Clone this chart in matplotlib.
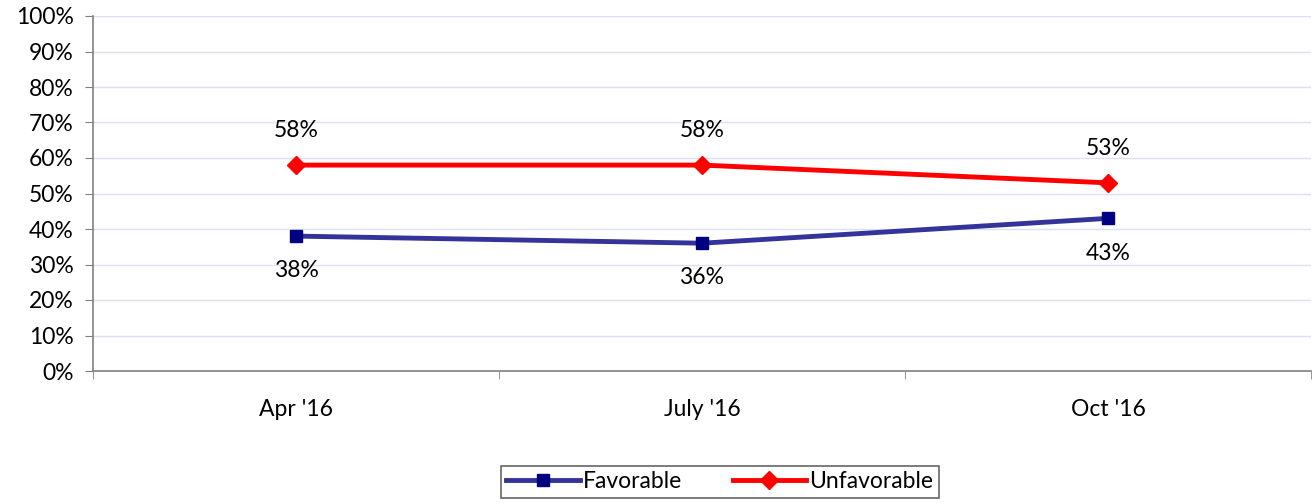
import matplotlib
matplotlib.use("Agg")
import matplotlib.pyplot as plt
from matplotlib.ticker import FixedLocator, PercentFormatter

categories = ["Apr '16", "July '16", "Oct '16"]
favorable = [38, 36, 43]
unfavorable = [58, 58, 53]

plt.rcParams['font.family'] = ['Lato', 'DejaVu Sans']
FS = 16.5

fig = plt.figure(figsize=(13.14, 5.04), dpi=100)
ax = fig.add_axes([93/1314, 1-371/504, (1311-93)/1314, (371-16)/504])

x = list(range(len(categories)))
ax.plot(x, favorable, color='#333399', lw=3.5, marker='s', ms=9,
        mfc='#000080', mec='#000080', label='Favorable', zorder=3)
ax.plot(x, unfavorable, color='#FF0000', lw=3.5, marker='D', ms=9,
        mfc='#FF0000', mec='#FF0000', label='Unfavorable', zorder=3)

for xi, v in zip(x, unfavorable):
    ax.annotate(f"{v}%", (xi, v), xytext=(0, 25), textcoords='offset points',
                ha='center', va='center', fontsize=FS, color='black')
for xi, v in zip(x, favorable):
    ax.annotate(f"{v}%", (xi, v), xytext=(0, -25), textcoords='offset points',
                ha='center', va='center', fontsize=FS, color='black')

ax.set_xlim(-0.5, len(categories) - 0.5)
ax.set_ylim(0, 100)
ax.yaxis.set_major_locator(FixedLocator(range(0, 101, 10)))
ax.yaxis.set_major_formatter(PercentFormatter(decimals=0))
ax.set_xticks(x)
ax.set_xticklabels(categories)
ax.xaxis.set_minor_locator(FixedLocator([i - 0.5 for i in range(len(categories) + 1)]))
ax.tick_params(axis='x', which='major', length=0, pad=20, labelsize=FS)
ax.tick_params(axis='x', which='minor', length=6, color='#808080', direction='out')
ax.tick_params(axis='y', length=6, color='#808080', labelsize=FS, pad=8)

ax.grid(axis='y', color='#D9E1F2', lw=1)
ax.set_axisbelow(True)
for s in ['top', 'right']:
    ax.spines[s].set_visible(False)
ax.spines['left'].set_color('#808080')
ax.spines['bottom'].set_color('#808080')
ax.spines['left'].set_linewidth(1.2)
ax.spines['bottom'].set_linewidth(1.2)

leg = fig.legend(loc='center', bbox_to_anchor=(720/1314, 1-482/504), ncol=2,
                 frameon=True, fancybox=False, edgecolor='#404040', fontsize=FS,
                 handlelength=3.2, columnspacing=2.2, handletextpad=0.15,
                 borderpad=0.25, borderaxespad=0)
leg.get_frame().set_linewidth(1.2)

fig.savefig("out.png", dpi=100)
